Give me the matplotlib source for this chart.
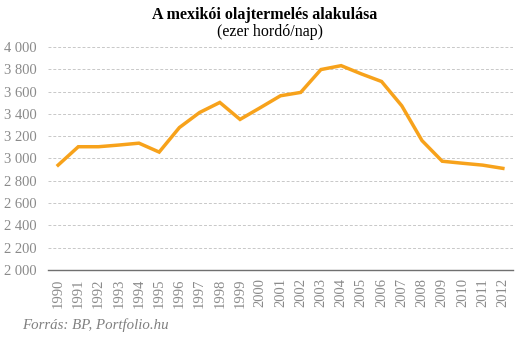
import matplotlib.pyplot as plt
import numpy as np

# Mexican oil production, thousand barrels/day (BP)
years = [str(y) for y in range(1990, 2013)]
production = [2940, 3105, 3105, 3120, 3137, 3057, 3277, 3412, 3502, 3350, 3455,
              3562, 3592, 3797, 3832, 3758, 3690, 3472, 3160, 2975, 2957, 2940, 2911]
y_ticks = [2000, 2200, 2400, 2600, 2800, 3000, 3200, 3400, 3600, 3800, 4000]
y_labels = ['{:,}'.format(v).replace(',', ' ') for v in y_ticks]

plt.rcParams['font.family'] = ['Liberation Serif', 'DejaVu Serif']

fig = plt.figure(figsize=(5.29, 3.40), dpi=100)
ax = fig.add_axes([0.0907, 0.206, 0.879, 0.656])

x = np.arange(len(years))
ax.plot(x, production, color='#F7A21B', linewidth=2.5, solid_joinstyle='miter')

ax.set_xlim(-0.5, len(years) - 0.5)
ax.set_ylim(2000, 4000)
ax.set_yticks(y_ticks)
ax.set_yticklabels(y_labels)
ax.set_xticks(x)
ax.set_xticklabels(years, rotation=90)

# Gridlines
for v in y_ticks[1:]:
    ax.axhline(v, color='#C8C8C8', linewidth=0.7, linestyle=(0, (3, 2)), zorder=0)

for s in ['top', 'right', 'left']:
    ax.spines[s].set_visible(False)
ax.spines['bottom'].set_color('#707070')
ax.spines['bottom'].set_linewidth(1.0)

ax.tick_params(axis='both', length=0, colors='#8A8A8A', labelsize=10.5)
ax.tick_params(axis='y', pad=8)
ax.tick_params(axis='x', pad=6)

fig.text(0.5, 0.957, 'A mexikói olajtermelés alakulása', ha='center', va='center',
         fontsize=11.5, fontweight='bold', color='black')
fig.text(0.51, 0.906, '(ezer hordó/nap)', ha='center', va='center',
         fontsize=11.5, color='black')
fig.text(0.042, 0.045, 'Forrás: BP, Portfolio.hu', ha='left', va='center',
         fontsize=10.7, style='italic', color='#808080')

fig.savefig('out.png', dpi=100)
